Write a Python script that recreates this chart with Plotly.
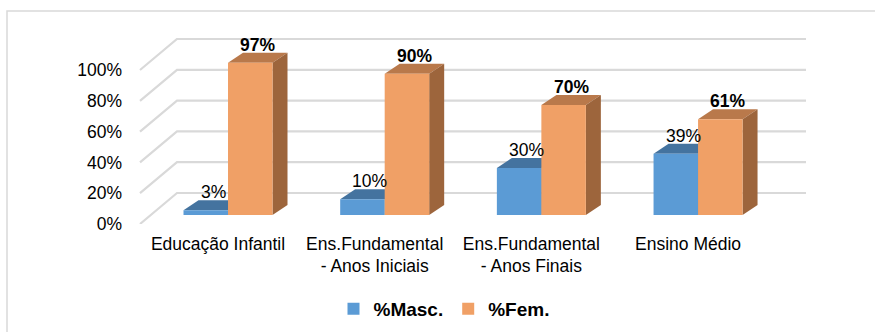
import plotly.graph_objects as go

# ---------------- data ----------------
categories = ["Educação Infantil", "Ens.Fundamental<br>- Anos Iniciais",
              "Ens.Fundamental<br>- Anos Finais", "Ensino Médio"]
masc = [0.03, 0.10, 0.30, 0.39]
fem = [0.97, 0.90, 0.70, 0.61]
series_names = ["%Masc.", "%Fem."]
y_ticks = [0, 0.2, 0.4, 0.6, 0.8, 1.0]

# ---------------- styling / layout ----------------
W, H = 875, 332
L, R, T, B = 140, 69, 38, 108
plot_w = W - L - R
plot_h = H - T - B
FONT = "Liberation Sans, Arial, sans-serif"

front_col = ["#5B9BD5", "#F0A066"]
top_col = ["#44739F", "#B9794B"]
side_col = ["#3B6690", "#9D653C"]

x_range = [-0.5617, 3.689]
y_bar_range = [-0.0573, 1.1274]   # bars axis
y_tick_range = [0, 1.2078]        # tick-label axis
bargap = 0.432
bar_w = (1 - bargap) / 2

ux = (x_range[1] - x_range[0]) / plot_w          # data units per px (x)
uy_bar = (y_bar_range[1] - y_bar_range[0]) / plot_h
uy_tick = (y_tick_range[1] - y_tick_range[0]) / plot_h
bar_depth_px = (15, 10)
wall_depth_px = (37, 31)
ddx = bar_depth_px[0] * ux
ddy = bar_depth_px[1] * uy_bar

x_idx = list(range(len(categories)))
series = [masc, fem]
offsets = [-bar_w / 2, bar_w / 2]

fig = go.Figure()
for k, vals in enumerate(series):
    fig.add_trace(go.Bar(
        x=x_idx, y=vals, name=series_names[k], marker_color=front_col[k],
        marker_line_width=0, xaxis="x", yaxis="y", hoverinfo="skip"))
# dummy trace anchoring the tick-label axis
fig.add_trace(go.Scatter(x=[None], y=[None], xaxis="x", yaxis="y2",
                         showlegend=False, hoverinfo="skip"))

shapes = []
# back-wall gridlines with slanted side-wall part
wall_dx_paper = wall_depth_px[0] / plot_w
wall_dy = wall_depth_px[1] * uy_tick
for v in y_ticks:
    shapes.append(dict(
        type="path", xref="paper", yref="y2", layer="below",
        path=f"M 0,{v} L {wall_dx_paper},{v + wall_dy} L 1,{v + wall_dy}",
        line=dict(color="#D9D9D9", width=2.2)))

# 3D faces of bars
for k, vals in enumerate(series):
    for i, v in zip(x_idx, vals):
        x0 = i + offsets[k] - bar_w / 2
        x1 = i + offsets[k] + bar_w / 2
        shapes.append(dict(
            type="path", xref="x", yref="y", layer="below",
            path=(f"M {x0},{v} L {x1},{v} L {x1 + ddx},{v + ddy} "
                  f"L {x0 + ddx},{v + ddy} Z"),
            fillcolor=top_col[k], line=dict(width=0)))
        shapes.append(dict(
            type="path", xref="x", yref="y", layer="below",
            path=(f"M {x1},0 L {x1},{v} L {x1 + ddx},{v + ddy} "
                  f"L {x1 + ddx},{ddy} Z"),
            fillcolor=side_col[k], line=dict(width=0)))

# chart border (light gray)
shapes.append(dict(
    type="rect", xref="paper", yref="paper",
    x0=(7 - L) / plot_w, x1=(W + 10 - L) / plot_w,
    y0=(T + plot_h - (H + 10)) / plot_h, y1=(T + plot_h - 11) / plot_h,
    line=dict(color="#D9D9D9", width=1.5), fillcolor="rgba(0,0,0,0)"))

annotations = []
for k, vals in enumerate(series):
    for i, v in zip(x_idx, vals):
        annotations.append(dict(
            x=i + offsets[k] + ddx / 2, y=v + ddy, xref="x", yref="y",
            text=f"{round(v * 100)}%", showarrow=False,
            yanchor="middle", xanchor="center", yshift=8,
            font=dict(family=FONT, size=17.5, color="#000000",
                      weight="bold" if k == 1 else "normal")))

fig.update_layout(
    width=W, height=H,
    margin=dict(l=L, r=R, t=T, b=B, autoexpand=False),
    paper_bgcolor="white", plot_bgcolor="rgba(0,0,0,0)",
    barmode="group", bargap=bargap, bargroupgap=0,
    font=dict(family=FONT, size=17.5, color="#000000"),
    xaxis=dict(range=x_range, tickvals=x_idx, ticktext=categories,
               showgrid=False, zeroline=False, showline=False,
               ticks="", ticklabelshift=-10, ticklabelstandoff=7,
               tickfont=dict(size=17.5, color="#000000")),
    yaxis=dict(range=y_bar_range, visible=False, showgrid=False,
               zeroline=False),
    yaxis2=dict(range=y_tick_range, overlaying="y", side="left",
                tickvals=y_ticks, tickformat=".0%", showgrid=False,
                zeroline=False, showline=False, ticks="",
                ticklabelstandoff=17,
                tickfont=dict(size=17.5, color="#000000")),
    legend=dict(orientation="h", x=(444 - L) / plot_w, xanchor="center",
                y=(T + plot_h - 309) / plot_h, yanchor="middle",
                font=dict(family=FONT, size=19, color="#000000",
                          weight="bold"),
                bgcolor="rgba(0,0,0,0)", traceorder="normal"),
    shapes=shapes, annotations=annotations,
    showlegend=True,
)

fig.write_html("out.html")
